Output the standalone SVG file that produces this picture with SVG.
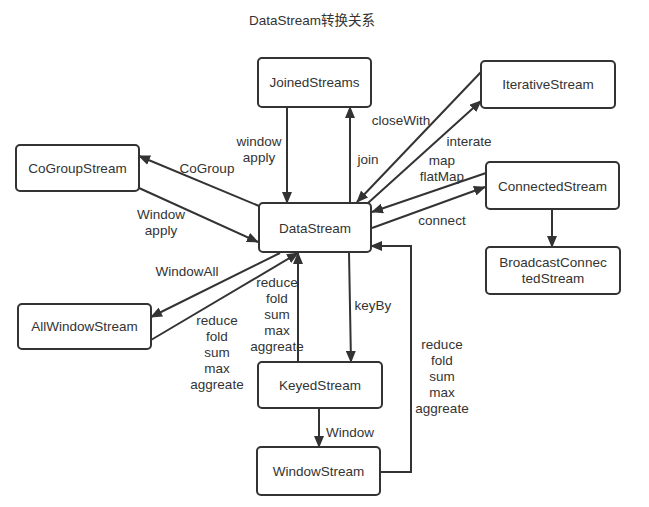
<svg xmlns="http://www.w3.org/2000/svg" width="649" height="507" viewBox="0 0 649 507">
<style>
.node rect{fill:#fff;stroke:#333;stroke-width:2}
text{font-family:"Liberation Sans","Noto Sans CJK SC",sans-serif;font-size:13.5px;fill:#333;text-anchor:middle}
.c path{fill:none;stroke:#333;stroke-width:2;marker-end:url(#ah)}
</style>
<defs>
<marker id="ah" markerWidth="12" markerHeight="10" refX="11" refY="5" orient="auto" markerUnits="userSpaceOnUse"><path d="M0,0 L12,5 L0,10 z" fill="#333"/></marker>
</defs>
<rect width="649" height="507" fill="#fff"/>
<text x="312" y="25">DataStream转换关系</text>
<g class="c" id="connectors">
<path d="M287,107 L287,203"/>
<path d="M350,203 L350,107"/>
<path d="M259,206 L139,156"/>
<path d="M139,188 L258,242"/>
<path d="M280,253 L151,317"/>
<path d="M151,340 L298,253"/>
<path d="M298,362 L298,253"/>
<path d="M349,252 L351,362"/>
<path d="M319,408 L319,447"/>
<path d="M380,472 L411,472 L411,246 L371,246"/>
<path d="M481,72 L357,202"/>
<path d="M368,203 L481,101"/>
<path d="M486,173 L372,212"/>
<path d="M372,228 L485,187"/>
<path d="M552,209 L552,247"/>
</g>
<g id="labels">
<text x="259" y="146">window</text>
<text x="259" y="162">apply</text>
<text x="207" y="173">CoGroup</text>
<text x="161" y="219">Window</text>
<text x="161" y="235">apply</text>
<text x="368" y="164">join</text>
<text x="401" y="125">closeWith</text>
<text x="469" y="146">interate</text>
<text x="442" y="165">map</text>
<text x="442" y="181">flatMap</text>
<text x="442" y="225">connect</text>
<text x="187" y="276">WindowAll</text>
<text x="217" y="325">reduce</text>
<text x="217" y="341">fold</text>
<text x="217" y="357">sum</text>
<text x="217" y="373">max</text>
<text x="217" y="389">aggreate</text>
<text x="277" y="287">reduce</text>
<text x="277" y="303">fold</text>
<text x="277" y="319">sum</text>
<text x="277" y="335">max</text>
<text x="277" y="351">aggreate</text>
<text x="373" y="310">keyBy</text>
<text x="442" y="349">reduce</text>
<text x="442" y="365">fold</text>
<text x="442" y="381">sum</text>
<text x="442" y="397">max</text>
<text x="442" y="413">aggreate</text>
<text x="350" y="437">Window</text>
</g>
<g class="node" id="JoinedStreams"><rect x="258" y="58" width="113" height="49" rx="4"/><text x="314.5" y="87">JoinedStreams</text></g>
<g class="node" id="DataStream"><rect x="259" y="203" width="112" height="49" rx="4"/><text x="315" y="233">DataStream</text></g>
<g class="node" id="CoGroupStream"><rect x="16" y="145" width="123" height="46" rx="4"/><text x="77.5" y="173">CoGroupStream</text></g>
<g class="node" id="IterativeStream"><rect x="481" y="61" width="134" height="47" rx="4"/><text x="548" y="89">IterativeStream</text></g>
<g class="node" id="ConnectedStream"><rect x="486" y="162" width="133" height="47" rx="4"/><text x="552.5" y="191">ConnectedStream</text></g>
<g class="node" id="BroadcastConnectedStream"><rect x="486" y="247" width="134" height="47" rx="4"/><text x="553" y="267">BroadcastConnec</text><text x="553" y="283">tedStream</text></g>
<g class="node" id="AllWindowStream"><rect x="18" y="304" width="133" height="45" rx="4"/><text x="84.5" y="331">AllWindowStream</text></g>
<g class="node" id="KeyedStream"><rect x="258" y="362" width="124" height="46" rx="4"/><text x="320" y="390">KeyedStream</text></g>
<g class="node" id="WindowStream"><rect x="257" y="447" width="123" height="48" rx="4"/><text x="318.5" y="476">WindowStream</text></g>
</svg>
